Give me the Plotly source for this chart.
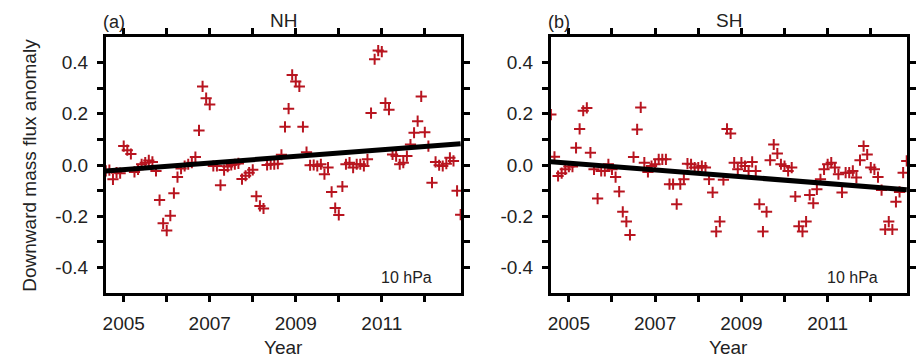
import numpy as np
import plotly.graph_objects as go

# Monthly anomalies, Aug 2004 onward
start_year = 2004
start_month = 8

nh_values = [
    -0.023, -0.020, -0.056, -0.030, -0.032, 0.074, 0.058, 0.043, -0.027, -0.017,
    0.003, 0.009, 0.018, 0.012, -0.023, -0.137, -0.228, -0.256, -0.198, -0.110,
    -0.047, -0.014, -0.004, 0.003, 0.009, 0.031, 0.135, 0.307, 0.261, 0.236,
    -0.004, -0.004, -0.079, -0.020, -0.006, 0.000, 0.003, 0.006, -0.055, -0.042,
    -0.030, -0.019, -0.122, -0.160, -0.170, 0.000, 0.003, 0.003, 0.005, 0.040,
    0.149, 0.220, 0.352, 0.326, 0.307, 0.149, 0.050, -0.001, 0.000, -0.004,
    0.003, -0.036, -0.010, -0.105, -0.168, -0.195, -0.084, 0.003, 0.009, -0.010,
    0.003, 0.003, -0.004, 0.022, 0.203, 0.413, 0.447, 0.443, 0.242, 0.216,
    0.041, 0.035, 0.003, 0.009, 0.035, 0.080, 0.126, 0.171, 0.268, 0.128,
    0.074, -0.069, 0.012, -0.001, -0.004, 0.005, 0.028, 0.016, -0.101, -0.194,
]

sh_values = [
    0.197, 0.032, -0.043, -0.032, -0.017, -0.006, -0.006, 0.067, 0.141, 0.212,
    0.223, 0.048, -0.017, -0.131, -0.023, -0.023, 0.003, -0.017, -0.047, -0.104,
    -0.183, -0.221, -0.273, 0.031, 0.139, 0.225, 0.009, -0.027, -0.004, 0.003,
    0.022, 0.022, 0.022, -0.075, -0.075, -0.153, -0.075, -0.056, 0.005, 0.003,
    -0.010, -0.010, -0.004, -0.010, -0.056, -0.107, -0.260, -0.221, -0.058, 0.141,
    0.123, 0.009, -0.017, 0.009, -0.004, -0.023, 0.012, -0.023, -0.153, -0.260,
    -0.183, 0.019, 0.080, 0.045, 0.003, -0.004, -0.023, -0.010, -0.123, -0.239,
    -0.260, -0.221, -0.117, -0.149, -0.095, -0.056, -0.017, 0.003, 0.009, -0.010,
    -0.036, -0.107, -0.030, -0.030, -0.023, -0.049, 0.019, 0.074, 0.041, -0.010,
    -0.017, -0.047, -0.098, -0.252, -0.221, -0.252, -0.144, -0.105, -0.030, 0.016,
]

# Linear trend lines (value at first and last month)
nh_trend = [-0.023, 0.083]
sh_trend = [0.013, -0.097]

x_tick_years = [2005, 2006, 2007, 2008, 2009, 2010, 2011, 2012]
x_tick_labels = ["2005", "", "2007", "", "2009", "", "2011", ""]
y_tick_vals = [-0.4, -0.3, -0.2, -0.1, 0.0, 0.1, 0.2, 0.3, 0.4]
y_tick_labels = ["-0.4", "", "-0.2", "", "0.0", "", "0.2", "", "0.4"]

panel_titles = ["NH", "SH"]
panel_letters = ["(a)", "(b)"]
level_label = "10 hPa"

x = np.array([start_year + (start_month - 1 + i) / 12.0 for i in range(len(nh_values))])

W, H = 916, 358
FONT = "Liberation Sans, Arial, Helvetica, sans-serif"
red = "#b8141f"

fig = go.Figure()

panels = [
    (nh_values, nh_trend, "x", "y", (104, 463)),
    (sh_values, sh_trend, "x2", "y2", (554, 914)),
]
for vals, trend, xa, ya, _ in panels:
    fig.add_trace(go.Scatter(
        x=x, y=vals, mode="markers", xaxis=xa, yaxis=ya,
        marker=dict(symbol="cross-thin", size=8, line=dict(color=red, width=2), color=red),
        showlegend=False, cliponaxis=True,
    ))
    fig.add_trace(go.Scatter(
        x=[x[0], x[-1]], y=trend, mode="lines", xaxis=xa, yaxis=ya,
        line=dict(color="black", width=5), showlegend=False,
    ))

top_px, bot_px = 37, 293
ydom = [1 - bot_px / H, 1 - top_px / H]

axis_common = dict(
    showline=True, linecolor="black", linewidth=3, mirror="ticks",
    ticks="outside", ticklen=6, tickwidth=2.5, tickcolor="black",
    showgrid=False, zeroline=False,
    tickfont=dict(family=FONT, size=19, color="#222"),
)

layout = dict(
    width=W, height=H,
    margin=dict(l=0, r=0, t=0, b=0),
    paper_bgcolor="white", plot_bgcolor="white",
    showlegend=False,
)

for k, (_, _, xa, ya, (l, r)) in enumerate(panels):
    xname = "xaxis" if k == 0 else "xaxis2"
    yname = "yaxis" if k == 0 else "yaxis2"
    layout[xname] = dict(
        domain=[l / W, r / W], range=[2004.585, 2012.84],
        tickmode="array", tickvals=x_tick_years, ticktext=x_tick_labels,
        anchor=ya, ticklabelstandoff=5, **axis_common,
    )
    layout[yname] = dict(
        domain=ydom, range=[-0.5, 0.5],
        tickmode="array", tickvals=y_tick_vals, ticktext=y_tick_labels,
        anchor=xa, ticklabelstandoff=5, **axis_common,
    )

fig.update_layout(**layout)

anns = []
def ann(text, px, py, size, xanchor="center", textangle=0):
    anns.append(dict(
        text=text, x=px / W, y=1 - py / H, xref="paper", yref="paper",
        showarrow=False, xanchor=xanchor, yanchor="middle",
        font=dict(family=FONT, size=size, color="#222"), textangle=textangle,
    ))

for k, (_, _, _, _, (l, r)) in enumerate(panels):
    c = (l + r) / 2
    ann(panel_titles[k], c, 20, 19)
    ann(panel_letters[k], l - 5, 22, 18, xanchor="left")
    ann(level_label, r - 55, 277, 16)
    ann("Year", c, 347, 19)

ann("Downward mass flux anomaly", 26, 165, 19, textangle=-90)

fig.update_layout(annotations=anns)
fig.write_html("out.html")
